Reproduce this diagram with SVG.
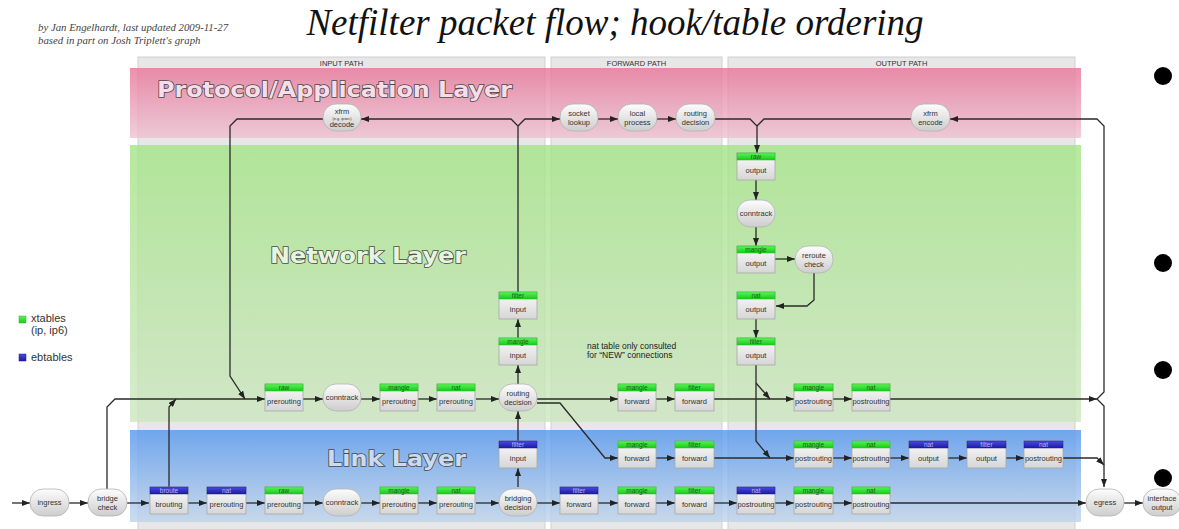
<svg xmlns="http://www.w3.org/2000/svg" width="1179" height="529" viewBox="0 0 1179 529">
<defs>
<linearGradient id="gPink" x1="0" y1="0" x2="0" y2="1"><stop offset="0" stop-color="#e87398"/><stop offset="1" stop-color="#eec1d1"/></linearGradient>
<linearGradient id="gGreen" x1="0" y1="0" x2="0" y2="1"><stop offset="0" stop-color="#a3e485"/><stop offset="1" stop-color="#cde6c0"/></linearGradient>
<linearGradient id="gBlue" x1="0" y1="0" x2="0" y2="1"><stop offset="0" stop-color="#5296ee"/><stop offset="1" stop-color="#c0d4eb"/></linearGradient>
<linearGradient id="gBody" x1="0" y1="0" x2="0" y2="1"><stop offset="0" stop-color="#fbfbfb"/><stop offset="1" stop-color="#d6d6d6"/></linearGradient>
<linearGradient id="gPill" x1="0" y1="0" x2="0" y2="1"><stop offset="0" stop-color="#fdfdfd"/><stop offset="1" stop-color="#cdcdcd"/></linearGradient>
<linearGradient id="gHG" x1="0" y1="0" x2="0" y2="1"><stop offset="0" stop-color="#5cf25c"/><stop offset="1" stop-color="#14cc14"/></linearGradient>
<linearGradient id="gHB" x1="0" y1="0" x2="0" y2="1"><stop offset="0" stop-color="#4a4ae0"/><stop offset="1" stop-color="#1b1ba8"/></linearGradient>
<marker id="ar" markerWidth="8" markerHeight="6" refX="8" refY="3" orient="auto" markerUnits="userSpaceOnUse"><path d="M0,0 L8,3 L0,6 z" fill="#222"/></marker>
<style>
.col{fill:#e7e7e7;stroke:#d0d0d0;stroke-width:1}
.colt{font-family:"Liberation Sans",Arial,sans-serif;font-size:7.5px;fill:#333;text-anchor:middle}
.lay{fill-opacity:0.8}
.lt{font-family:"DejaVu Sans",Verdana,sans-serif;font-weight:bold;font-size:22px;stroke:#4a4a4a;stroke-width:1.5;paint-order:stroke}
.bd{fill:url(#gBody);stroke:#a9a9a9;stroke-width:0.8}
.hg{fill:url(#gHG);stroke:#2bb82b;stroke-width:0.5}
.hb{fill:url(#gHB);stroke:#1a1a90;stroke-width:0.5}
.htg{font-family:"Liberation Sans",Arial,sans-serif;font-size:6.5px;fill:#1f5a1f;text-anchor:middle}
.htb{font-family:"Liberation Sans",Arial,sans-serif;font-size:6.5px;fill:#b8b8f0;text-anchor:middle}
.bt{font-family:"Liberation Sans",Arial,sans-serif;font-size:7.5px;fill:#333;text-anchor:middle}
.pl{fill:url(#gPill);stroke:#b3b3b3;stroke-width:0.8}
.pt{font-family:"Liberation Sans",Arial,sans-serif;font-size:7.5px;fill:#333;text-anchor:middle}
.cn{fill:none;stroke:#2a2a2a;stroke-width:1.3}
.cn path.a{marker-end:url(#ar)}
.leg{font-family:"Liberation Sans",Arial,sans-serif;font-size:11px;fill:#333}
</style>
</defs>
<rect width="1179" height="529" fill="#ffffff"/>

<g id="credits">
<text x="38" y="31" font-family="Liberation Serif,serif" font-style="italic" font-size="10.8" fill="#444">by Jan Engelhardt, last updated 2009-11-27</text>
<text x="38" y="44" font-family="Liberation Serif,serif" font-style="italic" font-size="10.8" fill="#444">based in part on Josh Triplett's graph</text>
</g>
<text id="title" x="615" y="35" font-family="Liberation Serif,serif" font-style="italic" font-size="37" fill="#111" text-anchor="middle">Netfilter packet flow; hook/table ordering</text>

<g id="columns">
<rect class="col" x="138" y="57" width="407" height="480"/>
<rect class="col" x="551" y="57" width="171" height="480"/>
<rect class="col" x="728" y="57" width="347" height="480"/>
<text class="colt" x="341.5" y="66">INPUT PATH</text>
<text class="colt" x="636.5" y="66">FORWARD PATH</text>
<text class="colt" x="901.5" y="66">OUTPUT PATH</text>
</g>

<g id="layers">
<rect class="lay" x="130" y="68" width="951" height="70" fill="url(#gPink)"/>
<rect class="lay" x="130" y="145" width="951" height="277" fill="url(#gGreen)"/>
<rect class="lay" x="130" y="430" width="951" height="92" fill="url(#gBlue)"/>
<text class="lt" x="157" y="97" fill="#f6dde8" textLength="355" lengthAdjust="spacingAndGlyphs">Protocol/Application Layer</text>
<text class="lt" x="270" y="263" fill="#e6f5de" textLength="196" lengthAdjust="spacingAndGlyphs">Network Layer</text>
<text class="lt" x="327" y="466" fill="#cadbf0" textLength="139" lengthAdjust="spacingAndGlyphs">Link Layer</text>
</g>

<g id="legend">
<rect x="19" y="316" width="7" height="7" fill="url(#gHG)" stroke="#2bb82b" stroke-width="0.5"/>
<text class="leg" x="31" y="322">xtables</text>
<text class="leg" x="31" y="334">(ip, ip6)</text>
<rect x="19" y="354" width="7" height="7" fill="url(#gHB)" stroke="#1a1a90" stroke-width="0.5"/>
<text class="leg" x="31" y="361">ebtables</text>
</g>

<g id="note">
<text x="587" y="349" font-family="Liberation Sans,Arial,sans-serif" font-size="8.5" fill="#222">nat table only consulted</text>
<text x="587" y="358" font-family="Liberation Sans,Arial,sans-serif" font-size="8.5" fill="#222">for “NEW” connections</text>
</g>

<g id="connectors" class="cn">
<path class="a" d="M12,503 H30"/>
<path class="a" d="M69,503 H88"/>
<path class="a" d="M127,503 H149"/>
<path class="a" d="M188,503 H207"/>
<path class="a" d="M246,503 H265"/>
<path class="a" d="M303,503 H323"/>
<path class="a" d="M361,503 H380"/>
<path class="a" d="M418,503 H437"/>
<path class="a" d="M476,503 H499"/>
<path class="a" d="M537,503 H560"/>
<path class="a" d="M598,503 H618"/>
<path class="a" d="M656,503 H675"/>
<path class="a" d="M714,503 H737"/>
<path class="a" d="M775,503 H794"/>
<path class="a" d="M833,503 H852"/>
<path class="a" d="M890,503 H1086"/>
<path class="a" d="M1124,503 H1143"/>
<path class="a" d="M107,489 V407 L115,399 H265"/>
<path class="a" d="M169,487 V407 L176,399"/>
<path class="a" d="M323,119 H237 L230,126 V376 L245,399"/>
<path class="a" d="M303,399 H323"/>
<path class="a" d="M361,399 H380"/>
<path class="a" d="M418,399 H437"/>
<path class="a" d="M476,399 H499"/>
<path class="a" d="M537,399 H618"/>
<path class="a" d="M537,403 H560 L605,458 H618"/>
<path class="a" d="M656,399 H675"/>
<path class="a" d="M714,399 H794"/>
<path class="a" d="M833,399 H852"/>
<path class="a" d="M890,399 H1097"/>
<path class="a" d="M1097,399 L1104,392 V126 L1097,119 H950"/>
<path class="a" d="M1097,399 L1104,406 V487"/>
<path class="a" d="M518,384 V365"/>
<path class="a" d="M518,338 V319"/>
<path class="a" d="M518,292 V126 L511,119 H361"/>
<path class="a" d="M518,126 L525,119 H560"/>
<path class="a" d="M518,487 V468"/>
<path class="a" d="M518,441 V411"/>
<path class="a" d="M598,119 H618"/>
<path class="a" d="M657,119 H676"/>
<path class="a" d="M715,119 H750 L757,126 V153"/>
<path d="M911,119 H764 L757,126"/>
<path class="a" d="M756,180 V200"/>
<path class="a" d="M756,227 V246"/>
<path class="a" d="M775,259 H795"/>
<path class="a" d="M814,273 V300 L807,306 H776"/>
<path class="a" d="M756,319 V338"/>
<path class="a" d="M756,365 V441 L770,458"/>
<path class="a" d="M756,383 L770,399"/>
<path class="a" d="M656,458 H675"/>
<path class="a" d="M714,458 H794"/>
<path class="a" d="M833,458 H852"/>
<path class="a" d="M890,458 H909"/>
<path class="a" d="M948,458 H967"/>
<path class="a" d="M1006,458 H1024"/>
<path class="a" d="M1063,458 H1097 L1104,465"/>
</g>

<g id="xfrm-decode" transform="translate(323,104)"><rect class="pl" width="38" height="27" rx="13"/><text class="pt" x="19" y="10" font-size="6.5">xfrm</text><text class="pt" x="19" y="15.5" style="font-size:3.8px">(e.g. ipsec)</text><text class="pt" x="19" y="23">decode</text></g>
<g id="socket-lookup" transform="translate(560,104)"><rect class="pl" width="38" height="27" rx="13"/><text class="pt" x="19" y="12">socket</text><text class="pt" x="19" y="20.5">lookup</text></g>
<g id="local-process" transform="translate(618,104)"><rect class="pl" width="39" height="27" rx="13"/><text class="pt" x="19.5" y="12">local</text><text class="pt" x="19.5" y="20.5">process</text></g>
<g id="routing-decision-out" transform="translate(676,104)"><rect class="pl" width="39" height="27" rx="13"/><text class="pt" x="19.5" y="12">routing</text><text class="pt" x="19.5" y="20.5">decision</text></g>
<g id="xfrm-encode" transform="translate(911,104)"><rect class="pl" width="39" height="27" rx="13"/><text class="pt" x="19.5" y="12">xfrm</text><text class="pt" x="19.5" y="20.5">encode</text></g>

<g id="raw-output" transform="translate(737,153)"><rect class="bd" width="38" height="27"/><rect class="hg" width="38" height="7"/><text class="htg" x="19" y="6">raw</text><text class="bt" x="19" y="20">output</text></g>
<g id="conntrack-out" transform="translate(737,200)"><rect class="pl" width="38" height="27" rx="13"/><text class="pt" x="19" y="16">conntrack</text></g>
<g id="mangle-output" transform="translate(737,246)"><rect class="bd" width="38" height="27"/><rect class="hg" width="38" height="7"/><text class="htg" x="19" y="6">mangle</text><text class="bt" x="19" y="20">output</text></g>
<g id="reroute-check" transform="translate(795,246)"><rect class="pl" width="38" height="27" rx="13"/><text class="pt" x="19" y="12">reroute</text><text class="pt" x="19" y="20.5">check</text></g>
<g id="nat-output" transform="translate(737,292)"><rect class="bd" width="38" height="27"/><rect class="hg" width="38" height="7"/><text class="htg" x="19" y="6">nat</text><text class="bt" x="19" y="20">output</text></g>
<g id="filter-output" transform="translate(737,338)"><rect class="bd" width="38" height="27"/><rect class="hg" width="38" height="7"/><text class="htg" x="19" y="6">filter</text><text class="bt" x="19" y="20">output</text></g>

<g id="filter-input" transform="translate(499,292)"><rect class="bd" width="38" height="27"/><rect class="hg" width="38" height="7"/><text class="htg" x="19" y="6">filter</text><text class="bt" x="19" y="20">input</text></g>
<g id="mangle-input" transform="translate(499,338)"><rect class="bd" width="38" height="27"/><rect class="hg" width="38" height="7"/><text class="htg" x="19" y="6">mangle</text><text class="bt" x="19" y="20">input</text></g>

<g id="raw-prerouting" transform="translate(265,384)"><rect class="bd" width="38" height="27"/><rect class="hg" width="38" height="7"/><text class="htg" x="19" y="6">raw</text><text class="bt" x="19" y="20">prerouting</text></g>
<g id="conntrack" transform="translate(323,384)"><rect class="pl" width="38" height="27" rx="13"/><text class="pt" x="19" y="16">conntrack</text></g>
<g id="mangle-prerouting" transform="translate(380,384)"><rect class="bd" width="38" height="27"/><rect class="hg" width="38" height="7"/><text class="htg" x="19" y="6">mangle</text><text class="bt" x="19" y="20">prerouting</text></g>
<g id="nat-prerouting" transform="translate(437,384)"><rect class="bd" width="38" height="27"/><rect class="hg" width="38" height="7"/><text class="htg" x="19" y="6">nat</text><text class="bt" x="19" y="20">prerouting</text></g>
<g id="routing-decision" transform="translate(499,384)"><rect class="pl" width="38" height="27" rx="13"/><text class="pt" x="19" y="12">routing</text><text class="pt" x="19" y="20.5">decision</text></g>
<g id="mangle-forward" transform="translate(618,384)"><rect class="bd" width="38" height="27"/><rect class="hg" width="38" height="7"/><text class="htg" x="19" y="6">mangle</text><text class="bt" x="19" y="20">forward</text></g>
<g id="filter-forward" transform="translate(675,384)"><rect class="bd" width="39" height="27"/><rect class="hg" width="39" height="7"/><text class="htg" x="19.5" y="6">filter</text><text class="bt" x="19.5" y="20">forward</text></g>
<g id="mangle-postrouting" transform="translate(794,384)"><rect class="bd" width="39" height="27"/><rect class="hg" width="39" height="7"/><text class="htg" x="19.5" y="6">mangle</text><text class="bt" x="19.5" y="20">postrouting</text></g>
<g id="nat-postrouting" transform="translate(852,384)"><rect class="bd" width="38" height="27"/><rect class="hg" width="38" height="7"/><text class="htg" x="19" y="6">nat</text><text class="bt" x="19" y="20">postrouting</text></g>

<g id="br-filter-input" transform="translate(499,441)"><rect class="bd" width="38" height="27"/><rect class="hb" width="38" height="7"/><text class="htb" x="19" y="6">filter</text><text class="bt" x="19" y="20">input</text></g>
<g id="bn-mangle-forward" transform="translate(618,441)"><rect class="bd" width="38" height="27"/><rect class="hg" width="38" height="7"/><text class="htg" x="19" y="6">mangle</text><text class="bt" x="19" y="20">forward</text></g>
<g id="bn-filter-forward" transform="translate(675,441)"><rect class="bd" width="39" height="27"/><rect class="hg" width="39" height="7"/><text class="htg" x="19.5" y="6">filter</text><text class="bt" x="19.5" y="20">forward</text></g>
<g id="bn-mangle-postrouting" transform="translate(794,441)"><rect class="bd" width="39" height="27"/><rect class="hg" width="39" height="7"/><text class="htg" x="19.5" y="6">mangle</text><text class="bt" x="19.5" y="20">postrouting</text></g>
<g id="bn-nat-postrouting" transform="translate(852,441)"><rect class="bd" width="38" height="27"/><rect class="hg" width="38" height="7"/><text class="htg" x="19" y="6">nat</text><text class="bt" x="19" y="20">postrouting</text></g>
<g id="br-nat-output" transform="translate(909,441)"><rect class="bd" width="39" height="27"/><rect class="hb" width="39" height="7"/><text class="htb" x="19.5" y="6">nat</text><text class="bt" x="19.5" y="20">output</text></g>
<g id="br-filter-output" transform="translate(967,441)"><rect class="bd" width="39" height="27"/><rect class="hb" width="39" height="7"/><text class="htb" x="19.5" y="6">filter</text><text class="bt" x="19.5" y="20">output</text></g>
<g id="br-nat-postrouting" transform="translate(1024,441)"><rect class="bd" width="39" height="27"/><rect class="hb" width="39" height="7"/><text class="htb" x="19.5" y="6">nat</text><text class="bt" x="19.5" y="20">postrouting</text></g>

<g id="ingress" transform="translate(30,489)"><rect class="pl" width="39" height="27" rx="13"/><text class="pt" x="19.5" y="16">ingress</text></g>
<g id="bridge-check" transform="translate(88,489)"><rect class="pl" width="39" height="27" rx="13"/><text class="pt" x="19.5" y="12">bridge</text><text class="pt" x="19.5" y="20.5">check</text></g>
<g id="br-brouting" transform="translate(150,487)"><rect class="bd" width="38" height="27"/><rect class="hb" width="38" height="7"/><text class="htb" x="19" y="6">broute</text><text class="bt" x="19" y="20">brouting</text></g>
<g id="br-nat-prerouting" transform="translate(207,487)"><rect class="bd" width="39" height="27"/><rect class="hb" width="39" height="7"/><text class="htb" x="19.5" y="6">nat</text><text class="bt" x="19.5" y="20">prerouting</text></g>
<g id="bl-raw-prerouting" transform="translate(265,487)"><rect class="bd" width="38" height="27"/><rect class="hg" width="38" height="7"/><text class="htg" x="19" y="6">raw</text><text class="bt" x="19" y="20">prerouting</text></g>
<g id="bl-conntrack" transform="translate(323,489)"><rect class="pl" width="38" height="27" rx="13"/><text class="pt" x="19" y="16">conntrack</text></g>
<g id="bl-mangle-prerouting" transform="translate(380,487)"><rect class="bd" width="38" height="27"/><rect class="hg" width="38" height="7"/><text class="htg" x="19" y="6">mangle</text><text class="bt" x="19" y="20">prerouting</text></g>
<g id="bl-nat-prerouting" transform="translate(437,487)"><rect class="bd" width="38" height="27"/><rect class="hg" width="38" height="7"/><text class="htg" x="19" y="6">nat</text><text class="bt" x="19" y="20">prerouting</text></g>
<g id="bridging-decision" transform="translate(499,489)"><rect class="pl" width="38" height="27" rx="13"/><text class="pt" x="19" y="12">bridging</text><text class="pt" x="19" y="20.5">decision</text></g>
<g id="br-filter-forward" transform="translate(560,487)"><rect class="bd" width="38" height="27"/><rect class="hb" width="38" height="7"/><text class="htb" x="19" y="6">filter</text><text class="bt" x="19" y="20">forward</text></g>
<g id="bl-mangle-forward" transform="translate(618,487)"><rect class="bd" width="38" height="27"/><rect class="hg" width="38" height="7"/><text class="htg" x="19" y="6">mangle</text><text class="bt" x="19" y="20">forward</text></g>
<g id="bl-filter-forward" transform="translate(675,487)"><rect class="bd" width="39" height="27"/><rect class="hg" width="39" height="7"/><text class="htg" x="19.5" y="6">filter</text><text class="bt" x="19.5" y="20">forward</text></g>
<g id="br-nat-postrouting2" transform="translate(737,487)"><rect class="bd" width="38" height="27"/><rect class="hb" width="38" height="7"/><text class="htb" x="19" y="6">nat</text><text class="bt" x="19" y="20">postrouting</text></g>
<g id="bl-mangle-postrouting" transform="translate(794,487)"><rect class="bd" width="39" height="27"/><rect class="hg" width="39" height="7"/><text class="htg" x="19.5" y="6">mangle</text><text class="bt" x="19.5" y="20">postrouting</text></g>
<g id="bl-nat-postrouting" transform="translate(852,487)"><rect class="bd" width="38" height="27"/><rect class="hg" width="38" height="7"/><text class="htg" x="19" y="6">nat</text><text class="bt" x="19" y="20">postrouting</text></g>
<g id="egress" transform="translate(1086,489)"><rect class="pl" width="38" height="27" rx="13"/><text class="pt" x="19" y="16">egress</text></g>
<g id="interface-output" transform="translate(1143,489)"><rect class="pl" width="38" height="27" rx="13"/><text class="pt" x="19" y="12">interface</text><text class="pt" x="19" y="20.5">output</text></g>

<g id="bullets" fill="#000">
<circle cx="1163" cy="76" r="9"/>
<circle cx="1163" cy="263" r="9"/>
<circle cx="1163" cy="370" r="9"/>
<circle cx="1163" cy="478" r="9"/>
</g>
</svg>
